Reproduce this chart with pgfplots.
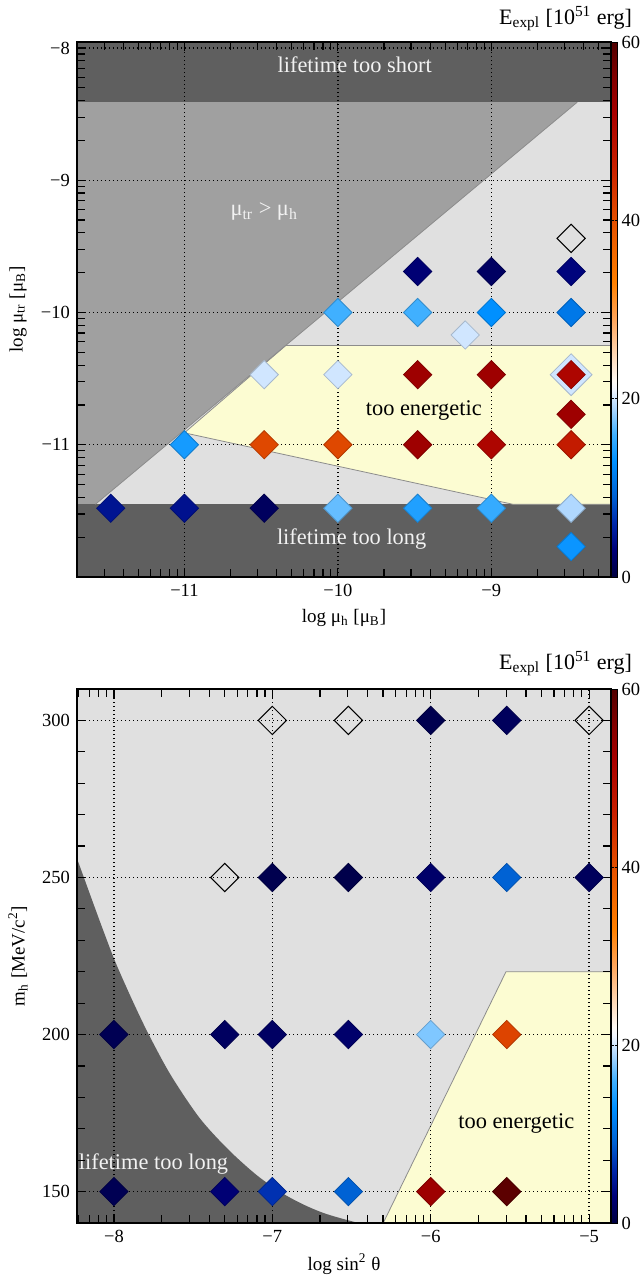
\documentclass[border=0pt]{standalone}
\usepackage{fontspec}
\setmainfont{Liberation Serif}
\usepackage{pgfplots}
\pgfplotsset{compat=1.18}

\definecolor{darkband}{RGB}{95,95,95}
\definecolor{midgray}{RGB}{160,160,160}
\definecolor{lightgray2}{RGB}{224,224,224}
\definecolor{paleyellow}{RGB}{252,252,210}
\definecolor{edgegray}{RGB}{140,140,140}
\definecolor{bandtext}{RGB}{242,242,242}

\pgfdeclareverticalshading{cbar}{100bp}{rgb(0bp)=(0,0,0.251); rgb(25bp)=(0,0,0.251);
  rgb(27.5bp)=(0,0,0.471); rgb(30bp)=(0,0.157,0.667); rgb(32.5bp)=(0,0.376,0.824);
  rgb(35.833bp)=(0,0.565,1); rgb(38.333bp)=(0.251,0.69,1); rgb(40.833bp)=(0.69,0.847,1);
  rgb(42.5bp)=(0.941,0.961,1); rgb(43.333bp)=(1,0.98,0.961); rgb(45.833bp)=(1,0.843,0.706);
  rgb(49.167bp)=(1,0.647,0.353); rgb(52.5bp)=(1,0.502,0); rgb(58.333bp)=(0.894,0.314,0);
  rgb(63.333bp)=(0.784,0.125,0); rgb(68.333bp)=(0.659,0,0); rgb(71.667bp)=(0.51,0,0);
  rgb(75bp)=(0.314,0,0); rgb(100bp)=(0.314,0,0)}

\tikzset{regiontext/.style={font=\fontsize{11.2}{13}\selectfont},
  gridline/.style={black, line width=0.7pt, dash pattern=on 0.7pt off 1.3pt}}

\pgfplotsset{
  colormap={expl}{rgb255(0pt)=(0,0,64) rgb255(3pt)=(0,0,120) rgb255(6pt)=(0,40,170)
    rgb255(9pt)=(0,96,210) rgb255(13pt)=(0,144,255) rgb255(16pt)=(64,176,255)
    rgb255(19pt)=(176,216,255) rgb255(21pt)=(240,245,255) rgb255(22pt)=(255,250,245)
    rgb255(25pt)=(255,215,180) rgb255(29pt)=(255,165,90) rgb255(33pt)=(255,128,0)
    rgb255(40pt)=(228,80,0) rgb255(46pt)=(200,32,0) rgb255(52pt)=(168,0,0)
    rgb255(56pt)=(130,0,0) rgb255(60pt)=(80,0,0)},
  myaxis/.style={
    scale only axis, width=267pt, height=267.5pt,
    axis on top,
    axis background/.style={fill=lightgray2},
    axis line style={line width=0.9pt},
    tick style={black, line width=0.6pt},
    major tick length=4.5pt, minor tick length=4pt,
    tick align=inside,
    colormap name=expl, point meta min=0, point meta max=60,
    tick label style={font=\fontsize{9.25}{11}\selectfont},
    label style={font=\fontsize{9.5}{11}\selectfont},
    xlabel style={at={(axis description cs:0.5,-0.0767)}, anchor=center},
    ylabel style={at={(axis description cs:-0.1105,0.5)}, anchor=center},
  },
  cbaraxis/.style={
    scale only axis, width=3.3pt, height=267.5pt,
    anchor=south west, axis on top,
    xmin=0, xmax=1, ymin=0, ymax=60,
    xtick=\empty, ytick={0,20,40,60}, yticklabels={0,20,40,60},
    yticklabel pos=right,
    yticklabel style={font=\fontsize{9.25}{11}\selectfont, xshift=-1.5pt},
    tick align=inside, major tick length=1.5pt,
    axis line style={line width=0.5pt},
    tick style={black, line width=0.5pt},
  },
  diam/.style={scatter, only marks, scatter src=explicit, mark=square*, mark size=5pt,
    mark options={rotate=45}},
  opendiam/.style={only marks, mark=square, mark size=5pt,
    mark options={rotate=45, draw=black, line width=0.5pt, fill=none}},
}

\pgfplotstableread{
x y E
-9.48 -9.69 2.8
-9.00 -9.69 1.8
-8.48 -9.69 3.3
-10.00 -10.00 16
-9.48 -10.00 16
-9.00 -10.00 13
-8.48 -10.00 11
-9.17 -10.17 20
-10.48 -10.47 20
-10.00 -10.47 20
-9.48 -10.47 53
-9.00 -10.47 53
-8.48 -10.47 51
-8.48 -10.77 53
-11.00 -11.00 14
-10.48 -11.00 41
-10.00 -11.00 41
-9.48 -11.00 53
-9.00 -11.00 51
-8.48 -11.00 47
-11.48 -11.48 4.5
-11.00 -11.48 4.3
-10.48 -11.48 1.6
-10.00 -11.48 17
-9.48 -11.48 14.5
-9.00 -11.48 15.5
-8.48 -11.48 19
-8.48 -11.77 13.5
}\toppoints

\pgfplotstableread{
x y E
-6.00 300 0.8
-5.52 300 1.5
-7.00 250 0.8
-6.52 250 0.6
-6.00 250 2.2
-5.52 250 9.2
-5.00 250 1.5
-8.00 200 1.0
-7.30 200 1.7
-7.00 200 1.9
-6.52 200 2.3
-6.00 200 17.7
-5.52 200 41.5
-8.00 150 1.0
-7.30 150 2.8
-7.00 150 6.5
-6.52 150 9.2
-6.00 150 53
-5.52 150 59
}\botpoints

\begin{document}
\begin{tikzpicture}
\path[use as bounding box] (0pt,0pt) rectangle (321pt,-638pt);

% ---------------- top panel ----------------
\begin{axis}[myaxis,
  at={(38.5pt,-288.5pt)}, anchor=south west,
  xmin=-11.70, xmax=-8.22, ymin=-12.0, ymax=-7.955,
  xtick={-11,-10,-9}, xticklabels={−11,−10,−9},
  ytick={-11,-10,-9,-8}, yticklabels={−11,−10,−9,−8},
  minor xtick={-11.523,-11.398,-11.301,-11.222,-11.155,-11.097,-11.046,
    -10.699,-10.523,-10.398,-10.301,-10.222,-10.155,-10.097,-10.046,
    -9.699,-9.523,-9.398,-9.301,-9.222,-9.155,-9.097,-9.046,
    -8.699,-8.523,-8.398,-8.301},
  minor ytick={-11.699,-11.523,-11.398,-11.301,-11.222,-11.155,-11.097,-11.046,
    -10.699,-10.523,-10.398,-10.301,-10.222,-10.155,-10.097,-10.046,
    -9.699,-9.523,-9.398,-9.301,-9.222,-9.155,-9.097,-9.046,
    -8.699,-8.523,-8.398,-8.301,-8.222,-8.155,-8.097,-8.046},
  xlabel={log μ\textsubscript{h} [μ\textsubscript{B}]},
  ylabel={log μ\textsubscript{tr} [μ\textsubscript{B}]},
]
\addplot[fill=midgray, draw=none]
  coordinates {(-11.70,-11.45) (-11.58,-11.45) (-8.44,-8.41) (-11.70,-8.41)};
\addplot[fill=darkband, draw=none]
  coordinates {(-11.70,-8.41) (-8.22,-8.41) (-8.22,-7.955) (-11.70,-7.955)};
\addplot[fill=darkband, draw=none]
  coordinates {(-11.70,-12.0) (-8.22,-12.0) (-8.22,-11.45) (-11.70,-11.45)};
\addplot[fill=paleyellow, draw=edgegray, line width=0.4pt]
  coordinates {(-11.00,-10.91) (-10.34,-10.25) (-8.22,-10.25) (-8.22,-11.45) (-8.86,-11.45) (-11.00,-10.91)};
\addplot[draw=edgegray, line width=0.4pt]
  coordinates {(-11.58,-11.45) (-8.44,-8.41)};

\draw[gridline] (axis cs:-11,-12.0) -- (axis cs:-11,-7.955);
\draw[gridline] (axis cs:-10,-12.0) -- (axis cs:-10,-7.955);
\draw[gridline] (axis cs:-9,-12.0) -- (axis cs:-9,-7.955);
\draw[gridline] (axis cs:-11.70,-11) -- (axis cs:-8.22,-11);
\draw[gridline] (axis cs:-11.70,-10) -- (axis cs:-8.22,-10);
\draw[gridline] (axis cs:-11.70,-9) -- (axis cs:-8.22,-9);
\draw[gridline] (axis cs:-11.70,-8) -- (axis cs:-8.22,-8);

\addplot[scatter, only marks, scatter src=explicit, mark=square*, mark size=7.4pt,
  mark options={rotate=45}] coordinates {(-8.48,-10.47) [20]};
\addplot[diam] table[x=x, y=y, meta=E] {\toppoints};
\addplot[opendiam] coordinates {(-8.48,-9.44)};

\node[regiontext, text=bandtext] at (axis cs:-9.89,-8.13) {lifetime too short};
\node[regiontext, text=bandtext] at (axis cs:-10.48,-9.24) {μ\textsubscript{tr} > μ\textsubscript{h}};
\node[regiontext, text=black] at (axis cs:-9.44,-10.74) {too energetic};
\node[regiontext, text=bandtext] at (axis cs:-9.91,-11.71) {lifetime too long};
\end{axis}

\begin{axis}[cbaraxis, at={(305.5pt,-288.5pt)}]
\shade[shading=cbar] (axis cs:0,0) rectangle (axis cs:1,60);
\end{axis}

\node[anchor=base east, font=\fontsize{11}{13}\selectfont] at (319.5pt,-12pt)
  {E\textsubscript{expl} [10\textsuperscript{51} erg]};

% ---------------- bottom panel ----------------
\begin{axis}[myaxis,
  at={(38.5pt,-611.5pt)}, anchor=south west,
  height=267pt,
  xmin=-8.233, xmax=-4.862, ymin=140, ymax=310,
  xtick={-8,-7,-6,-5}, xticklabels={−8,−7,−6,−5},
  ytick={150,200,250,300}, yticklabels={150,200,250,300},
  minor xtick={-8.222,-8.155,-8.097,-8.046,
    -7.699,-7.523,-7.398,-7.301,-7.222,-7.155,-7.097,-7.046,
    -6.699,-6.523,-6.398,-6.301,-6.222,-6.155,-6.097,-6.046,
    -5.699,-5.523,-5.398,-5.301,-5.222,-5.155,-5.097,-5.046},
  minor ytick={160,170,180,190,210,220,230,240,260,270,280,290},
  xlabel style={at={(axis description cs:0.5,-0.0768)}},
  xlabel={log sin\textsuperscript{2} θ},
  ylabel={m\textsubscript{h} [MeV/c\textsuperscript{2}]},
]
\addplot[fill=darkband, draw=none, smooth, tension=0.5]
  coordinates {(-9.2,300) (-8.40,279) (-8.32,267.5) (-8.233,256) (-8.15,244.5) (-8.07,233.5)
  (-7.99,223) (-7.88,210.5) (-7.78,200) (-7.64,187) (-7.46,173.5) (-7.28,163.5)
  (-7.10,155.3) (-6.94,149.6) (-6.80,145.8) (-6.66,142.9) (-6.47,140.2) (-6.30,138.5)
  (-6.0,136) (-9.2,100)};
\addplot[fill=paleyellow, draw=edgegray, line width=0.4pt]
  coordinates {(-6.30,140) (-5.525,220) (-4.862,220) (-4.862,140) (-6.30,140)};

\draw[gridline] (axis cs:-8,140) -- (axis cs:-8,310);
\draw[gridline] (axis cs:-7,140) -- (axis cs:-7,310);
\draw[gridline] (axis cs:-6,140) -- (axis cs:-6,310);
\draw[gridline] (axis cs:-5,140) -- (axis cs:-5,310);
\draw[gridline] (axis cs:-8.233,150) -- (axis cs:-4.862,150);
\draw[gridline] (axis cs:-8.233,200) -- (axis cs:-4.862,200);
\draw[gridline] (axis cs:-8.233,250) -- (axis cs:-4.862,250);
\draw[gridline] (axis cs:-8.233,300) -- (axis cs:-4.862,300);

\addplot[diam] table[x=x, y=y, meta=E] {\botpoints};
\addplot[opendiam] coordinates {(-7.00,300) (-6.52,300) (-5.00,300) (-7.30,250)};

\node[regiontext, text=bandtext] at (axis cs:-7.75,158.7) {lifetime too long};
\node[regiontext, text=black] at (axis cs:-5.46,171.7) {too energetic};
\end{axis}

\begin{axis}[cbaraxis, at={(305.5pt,-611.5pt)}, height=267pt]
\shade[shading=cbar] (axis cs:0,0) rectangle (axis cs:1,60);
\end{axis}

\node[anchor=base east, font=\fontsize{11}{13}\selectfont] at (319.5pt,-334.5pt)
  {E\textsubscript{expl} [10\textsuperscript{51} erg]};
\end{tikzpicture}
\end{document}
